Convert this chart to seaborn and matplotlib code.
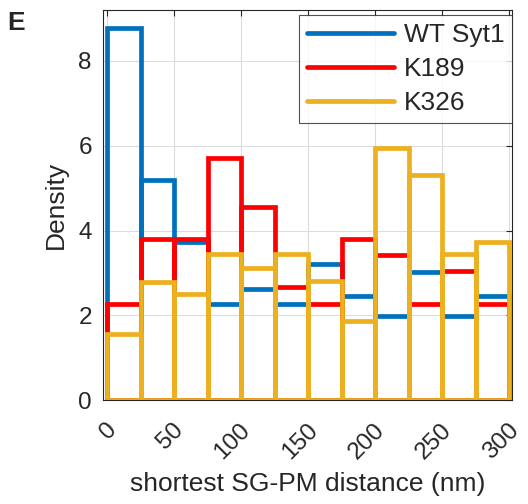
import numpy as np
import pandas as pd
import matplotlib
matplotlib.use("Agg")
import matplotlib.pyplot as plt
import seaborn as sns
from matplotlib.lines import Line2D
from matplotlib.transforms import ScaledTranslation

bin_edges = [0, 25, 50, 75, 100, 125, 150, 175, 200, 225, 250, 275, 300]
series_names = ["WT Syt1", "K189", "K326"]
wt_density = [8.77, 5.19, 3.73, 2.26, 2.63, 2.26, 3.21, 2.45, 1.98, 3.02, 1.98, 2.45]
k189_density = [2.28, 3.81, 3.81, 5.70, 4.56, 2.67, 2.28, 3.81, 3.42, 2.28, 3.05, 2.28]
k326_density = [1.57, 2.79, 2.50, 3.44, 3.12, 3.44, 2.81, 1.87, 5.94, 5.31, 3.44, 3.73]
xtick_values = [0, 50, 100, 150, 200, 250, 300]
ytick_values = [0, 2, 4, 6, 8]

colors = ["#0072BD", "#FF0000", "#EDB120"]

sns.set_theme(style="white")
plt.rcParams["font.family"] = ["Liberation Sans", "DejaVu Sans"]

fig = plt.figure(figsize=(5.28, 5.04), dpi=100)
ax = fig.add_axes([0.195, 0.206, 0.775, 0.774])

centers = [(a + b) / 2 for a, b in zip(bin_edges[:-1], bin_edges[1:])]
for name, dens, col in zip(series_names, [wt_density, k189_density, k326_density], colors):
    df = pd.DataFrame({"x": centers, "w": dens})
    sns.histplot(data=df, x="x", weights="w", bins=bin_edges, element="bars",
                 fill=False, color=col, linewidth=3.4, ax=ax, stat="count")

ax.set_xlim(-3, 302)
ax.set_ylim(0, 9.2)
ax.set_xticks(xtick_values)
ax.set_yticks(ytick_values)
ax.set_xticklabels([str(v) for v in xtick_values], rotation=45, ha="right",
                   va="center", rotation_mode="anchor", fontsize=17.5, color="#262626")
ax.set_yticklabels([str(v) for v in ytick_values], fontsize=17.5, color="#262626")
ax.tick_params(direction="in", top=True, right=True, length=4, width=0.8,
               color="#262626")
ax.tick_params(axis="x", pad=19)
ax.tick_params(axis="y", pad=8)
offset = ScaledTranslation(6 / 100, 0, fig.dpi_scale_trans)
for lab in ax.get_xticklabels():
    lab.set_transform(lab.get_transform() + offset)

ax.grid(True, color="#dcdcdc", linewidth=0.8)
ax.set_axisbelow(True)
for s in ax.spines.values():
    s.set_visible(True)
    s.set_color("#262626")
    s.set_linewidth(0.8)

ax.set_xlabel("shortest SG-PM distance (nm)", fontsize=19, color="#262626")
ax.set_ylabel("Density", fontsize=19, color="#262626")
ax.xaxis.set_label_coords(0.5, -0.185)
ax.yaxis.set_label_coords(-0.085, 0.5)

handles = [Line2D([0], [0], color=c, lw=3.4) for c in colors]
leg = ax.legend(handles, series_names, loc="upper right",
                bbox_to_anchor=(1.0, 1 - 5 / 390), fontsize=19,
                frameon=True, fancybox=False, edgecolor="#262626",
                borderaxespad=0.0, handlelength=3.3, labelspacing=0.38,
                borderpad=0.3, handletextpad=0.35)
leg.get_frame().set_linewidth(0.8)

fig.text(0.013, 0.978, "E", fontsize=19, fontweight="bold", va="top", ha="left")

fig.savefig("out.png", dpi=100)
